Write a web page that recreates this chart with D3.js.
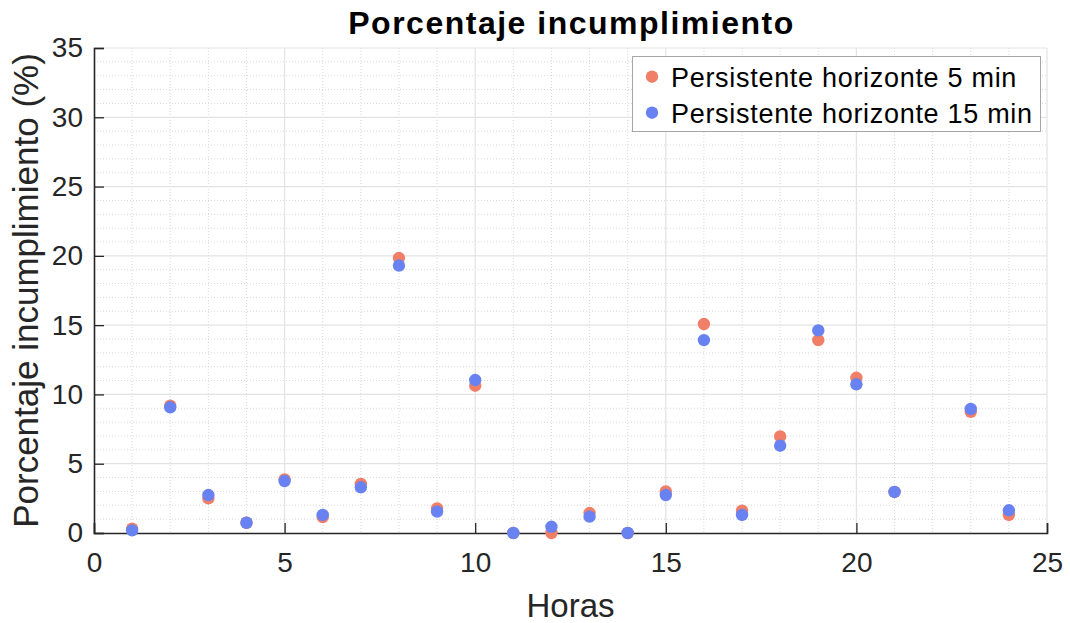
<!DOCTYPE html>
<html>
<head>
<meta charset="utf-8">
<script src="https://cdn.jsdelivr.net/npm/d3@7"></script>
<style>
  html, body { margin: 0; padding: 0; background: #fff; }
  svg { display: block; font-family: "Liberation Sans", Arial, Helvetica, sans-serif; }
</style>
</head>
<body>
<svg id="chart" width="1070" height="623"></svg>
<script>
// Hours with data (hour 22 has no value)
const horas = [1, 2, 3, 4, 5, 6, 7, 8, 9, 10, 11, 12, 13, 14, 15, 16, 17, 18, 19, 20, 21, 23, 24];
const persistente5 = [0.31, 9.19, 2.50, 0.74, 3.87, 1.15, 3.54, 19.84, 1.78, 10.63, 0, 0, 1.44, 0, 3.00, 15.08, 1.61, 6.97, 13.92, 11.20, 2.96, 8.75, 1.30];
const persistente15 = [0.19, 9.07, 2.74, 0.74, 3.75, 1.30, 3.30, 19.30, 1.54, 11.04, 0, 0.45, 1.18, 0, 2.74, 13.92, 1.30, 6.30, 14.62, 10.73, 2.96, 8.95, 1.64];
const xTicks = [0, 5, 10, 15, 20, 25];
const yTicks = [0, 5, 10, 15, 20, 25, 30, 35];
const seriesNames = ["Persistente horizonte 5 min", "Persistente horizonte 15 min"];
const seriesColors = ["#F17F68", "#6982F2"];

const svg = d3.select("#chart");
const plotL = 94, plotR = 1047, plotT = 48, plotB = 533;

const x = d3.scaleLinear().domain([0, 25]).range([plotL, plotR]);
const y = d3.scaleLinear().domain([0, 35]).range([plotB, plotT]);

const textColor = "#262626";

// Minor grid (dotted, every unit)
const g = svg.append("g");
g.selectAll("line.mx").data(d3.range(1, 25).filter(v => v % 5 !== 0)).join("line")
  .attr("x1", d => x(d)).attr("x2", d => x(d)).attr("y1", plotT).attr("y2", plotB)
  .attr("stroke", "#d9d9d9").attr("stroke-width", 1).attr("stroke-dasharray", "1,2");
g.selectAll("line.my").data(d3.range(1, 35).filter(v => v % 5 !== 0)).join("line")
  .attr("x1", plotL).attr("x2", plotR).attr("y1", d => y(d)).attr("y2", d => y(d))
  .attr("stroke", "#d9d9d9").attr("stroke-width", 1).attr("stroke-dasharray", "1,2");

// Major grid (solid)
g.selectAll("line.Mx").data(xTicks.slice(1)).join("line")
  .attr("x1", d => x(d)).attr("x2", d => x(d)).attr("y1", plotT).attr("y2", plotB)
  .attr("stroke", "#e3e3e3").attr("stroke-width", 1.2);
g.selectAll("line.My").data(yTicks.slice(1)).join("line")
  .attr("x1", plotL).attr("x2", plotR).attr("y1", d => y(d)).attr("y2", d => y(d))
  .attr("stroke", "#e3e3e3").attr("stroke-width", 1.2);

// Axes
const xAxis = svg.append("g").attr("transform", `translate(0,${plotB})`)
  .call(d3.axisBottom(x).tickValues(xTicks).tickSize(-10).tickPadding(19).tickFormat(d3.format("d")));
const yAxis = svg.append("g").attr("transform", `translate(${plotL},0)`)
  .call(d3.axisLeft(y).tickValues(yTicks).tickSize(-10).tickPadding(11).tickFormat(d3.format("d")));
[xAxis, yAxis].forEach(a => {
  a.select(".domain").attr("stroke", textColor).attr("stroke-width", 1.6);
  a.selectAll(".tick line").attr("stroke", textColor).attr("stroke-width", 1.3);
  a.selectAll(".tick text").attr("fill", textColor).style("font-size", "28px")
    .style("font-family", "'Liberation Sans', Arial, sans-serif");
});
xAxis.selectAll(".tick text").attr("dy", "0.71em");

// Points
const series = [persistente5, persistente15];
series.forEach((vals, i) => {
  svg.append("g").selectAll("circle").data(horas.map((h, j) => [h, vals[j]])).join("circle")
    .attr("cx", d => x(d[0])).attr("cy", d => y(d[1])).attr("r", 6.2)
    .attr("fill", seriesColors[i]);
});

// Title and axis labels
svg.append("text").attr("x", (plotL + plotR) / 2 + 1).attr("y", 34).attr("text-anchor", "middle")
  .attr("font-weight", "bold").style("font-size", "32px").style("letter-spacing", "1.5px")
  .attr("fill", "#000").text("Porcentaje incumplimiento");
svg.append("text").attr("x", (plotL + plotR) / 2).attr("y", 617).attr("text-anchor", "middle")
  .style("font-size", "33px").attr("fill", textColor).text("Horas");
svg.append("text").attr("transform", `translate(38,${(plotT + plotB) / 2}) rotate(-90)`)
  .attr("text-anchor", "middle").style("font-size", "35px").attr("fill", textColor)
  .text("Porcentaje incumplimiento (%)");

// Legend
const lg = svg.append("g");
lg.append("rect").attr("x", 632.5).attr("y", 56.5).attr("width", 408).attr("height", 75)
  .attr("fill", "#fff").attr("stroke", "#a6a6a6").attr("stroke-width", 1);
seriesNames.forEach((name, i) => {
  const base = 86.7 + i * 36;
  lg.append("circle").attr("cx", 652).attr("cy", base - 10).attr("r", 6.2).attr("fill", seriesColors[i]);
  lg.append("text").attr("x", 671).attr("y", base)
    .style("font-size", "27px").style("letter-spacing", "0.7px").attr("fill", "#000").text(name);
});
</script>
</body>
</html>
